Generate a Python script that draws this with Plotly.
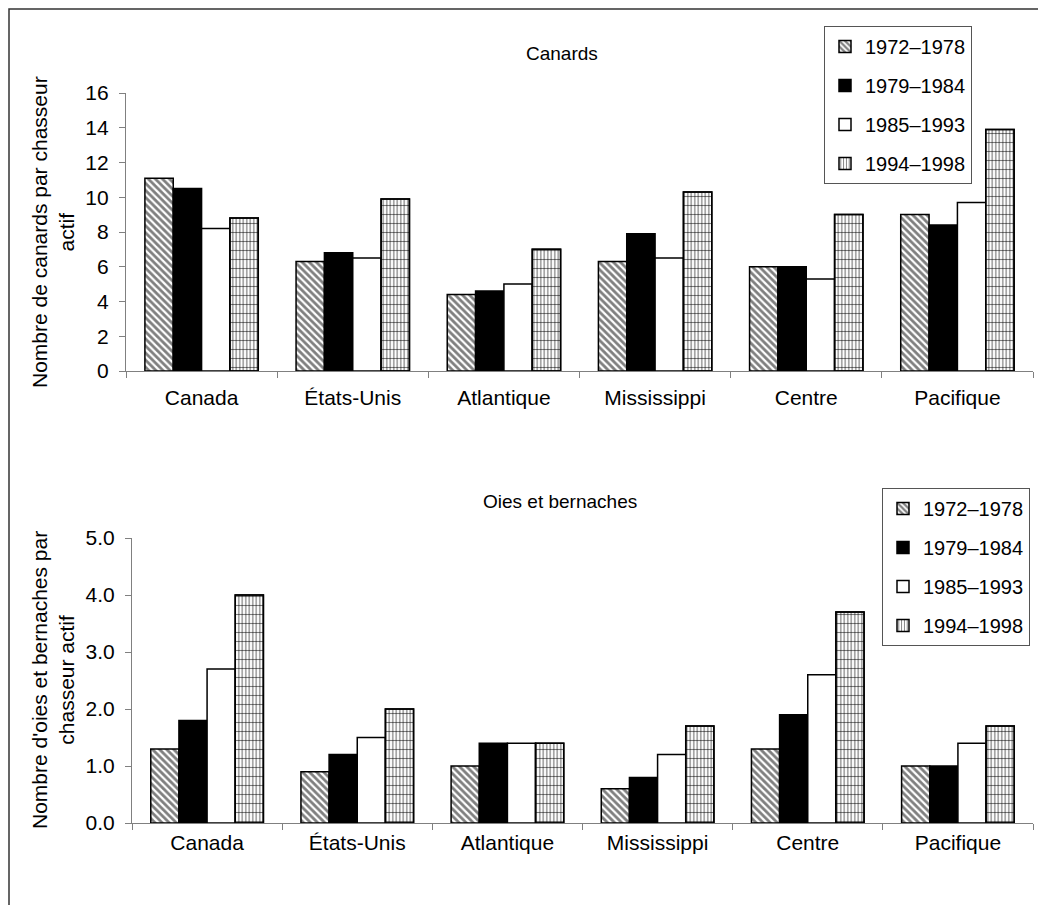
import plotly.graph_objects as go

W, H = 1038, 905

categories = ["Canada", "États-Unis", "Atlantique", "Mississippi", "Centre", "Pacifique"]
periods = ["1972–1978", "1979–1984", "1985–1993", "1994–1998"]

# Canards par chasseur actif
ducks_1972 = [11.1, 6.3, 4.4, 6.3, 6.0, 9.0]
ducks_1979 = [10.5, 6.8, 4.6, 7.9, 6.0, 8.4]
ducks_1985 = [8.2, 6.5, 5.0, 6.5, 5.3, 9.7]
ducks_1994 = [8.8, 9.9, 7.0, 10.3, 9.0, 13.9]

# Oies et bernaches par chasseur actif
geese_1972 = [1.3, 0.9, 1.0, 0.6, 1.3, 1.0]
geese_1979 = [1.8, 1.2, 1.4, 0.8, 1.9, 1.0]
geese_1985 = [2.7, 1.5, 1.4, 1.2, 2.6, 1.4]
geese_1994 = [4.0, 2.0, 1.4, 1.7, 3.7, 1.7]

ducks = [ducks_1972, ducks_1979, ducks_1985, ducks_1994]
geese = [geese_1972, geese_1979, geese_1985, geese_1994]

FONT = "Liberation Sans, Arial, sans-serif"
FS_TICK = 21
FS_LEG = 20
FS_TITLE = 19
FS_YT = 21

styles = [
    dict(color="white", pattern=dict(shape="\\", fgcolor="black", bgcolor="white", size=5, solidity=0.55)),
    dict(color="black"),
    dict(color="white"),
    dict(color="white", pattern=dict(shape="|", fgcolor="black", bgcolor="white", size=3.5, solidity=0.35)),
]

fig = go.Figure()

def add_chart(data, xa, ya, legend_name, tag):
    for i, (vals, per) in enumerate(zip(data, periods)):
        st = styles[i]
        marker = dict(color=st["color"], line=dict(color="black", width=1.5))
        if "pattern" in st:
            marker["pattern"] = st["pattern"]
        fig.add_trace(go.Bar(
            x=categories, y=vals, name=per, marker=marker,
            xaxis=xa, yaxis=ya, legend=legend_name,
            legendgroup=tag + per, offsetgroup=tag + str(i),
            hoverinfo="skip",
        ))
    # horizontal lines overlay for the last series
    fig.add_trace(go.Bar(
        x=categories, y=data[3], name=periods[3], showlegend=False,
        marker=dict(color="rgba(0,0,0,0)", line=dict(color="black", width=1.5),
                    pattern=dict(shape="-", fgcolor="black", bgcolor="rgba(0,0,0,0)", size=9, solidity=0.12)),
        xaxis=xa, yaxis=ya, legend=legend_name, offsetgroup=tag + "3",
        hoverinfo="skip",
    ))

add_chart(ducks, "x", "y", "legend", "d")
add_chart(geese, "x2", "y2", "legend2", "g")

axis_common = dict(
    showline=True, linecolor="#808080", linewidth=1.2,
    ticks="outside", ticklen=6, tickcolor="#808080", tickwidth=1.2,
    showgrid=False, zeroline=False, automargin=False,
    tickfont=dict(family=FONT, size=FS_TICK, color="black"),
)

legend_common = dict(
    font=dict(family=FONT, size=FS_LEG, color="black"),
    bordercolor="#555555", borderwidth=1, bgcolor="white",
    xanchor="left", yanchor="top", tracegroupgap=10,
    itemclick=False, itemdoubleclick=False,
)

fig.update_layout(
    width=W, height=H,
    margin=dict(l=0, r=0, t=0, b=0, autoexpand=False),
    paper_bgcolor="white", plot_bgcolor="white",
    barmode="group", bargap=0.25, bargroupgap=0,
    font=dict(family=FONT, size=FS_TICK, color="black"),
    xaxis=dict(domain=[126 / W, 1033 / W], anchor="y", tickson="boundaries",
               ticklabelstandoff=8, **axis_common),
    yaxis=dict(domain=[1 - 371 / H, 1 - 93 / H], anchor="x", range=[0, 16], dtick=2,
               ticklabelstandoff=6, **axis_common),
    xaxis2=dict(domain=[132 / W, 1033 / W], anchor="y2", tickson="boundaries",
                ticklabelstandoff=1, **axis_common),
    yaxis2=dict(domain=[1 - 823 / H, 1 - 538 / H], anchor="x2", range=[0, 5], dtick=1,
                tickformat=".1f", ticklabelstandoff=6, **axis_common),
    legend=dict(x=824 / W, y=1 - 26 / H, **legend_common),
    legend2=dict(x=882 / W, y=1 - 488 / H, **legend_common),
    showlegend=True,
)

ann_font = dict(family=FONT, size=FS_TITLE, color="black")
yt_font = dict(family=FONT, size=FS_YT, color="black")
fig.add_annotation(text="Canards", x=562 / W, y=1 - 53 / H, xref="paper", yref="paper",
                   showarrow=False, font=ann_font, xanchor="center", yanchor="middle")
fig.add_annotation(text="Oies et bernaches", x=560 / W, y=1 - 502 / H, xref="paper", yref="paper",
                   showarrow=False, font=ann_font, xanchor="center", yanchor="middle")
fig.add_annotation(text="Nombre de canards par chasseur<br>actif", x=53 / W, y=1 - 232 / H,
                   xref="paper", yref="paper", showarrow=False, font=yt_font, textangle=-90,
                   xanchor="center", yanchor="middle")
fig.add_annotation(text="Nombre d'oies et bernaches par<br>chasseur actif", x=53 / W, y=1 - 680 / H,
                   xref="paper", yref="paper", showarrow=False, font=yt_font, textangle=-90,
                   xanchor="center", yanchor="middle")

# outer frame of the chart area
fig.add_shape(type="rect", xref="paper", yref="paper", x0=9 / W, y0=-0.1, x1=1.1, y1=1 - 9 / H,
              line=dict(color="#333333", width=1.5), fillcolor="rgba(0,0,0,0)", layer="below")

fig.write_html("out.html")
